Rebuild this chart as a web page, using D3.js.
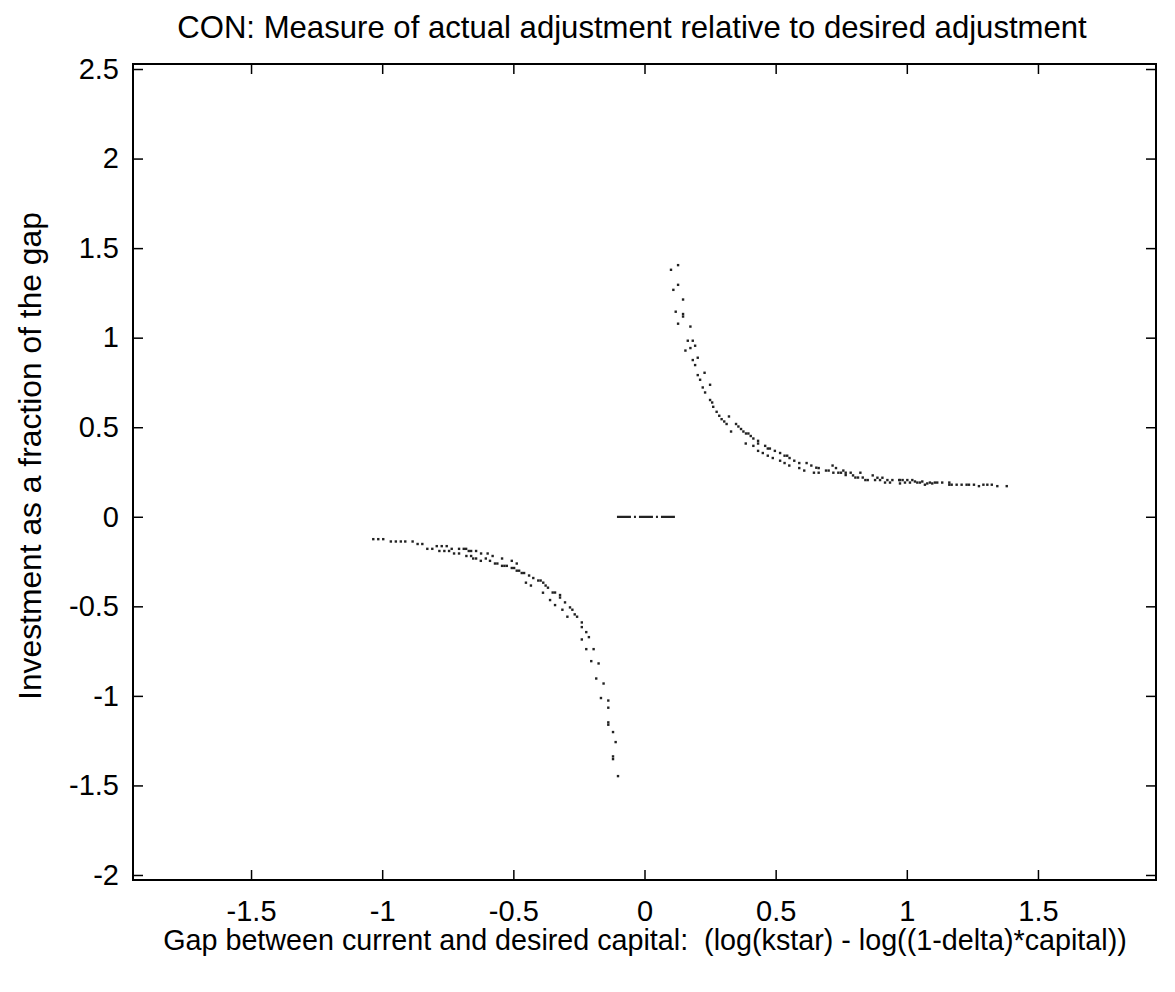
<!DOCTYPE html>
<html>
<head>
<meta charset="utf-8">
<script src="https://cdn.jsdelivr.net/npm/d3@7"></script>
<style>
  html, body { margin: 0; padding: 0; background: #fff; }
  text { font-family: "Liberation Sans", Arial, sans-serif; fill: #000; white-space: pre; }
</style>
</head>
<body>
<div id="chart"></div>
<script>
/* CON: actual vs desired adjustment — scatter of investment / gap */

var titleText = 'CON: Measure of actual adjustment relative to desired adjustment';
var xLabelText = 'Gap between current and desired capital:  (log(kstar) - log((1-delta)*capital))';
var yLabelText = 'Investment as a fraction of the gap';

var xTicks = [-1.5, -1, -0.5, 0, 0.5, 1, 1.5];
var yTicks = [-2, -1.5, -1, -0.5, 0, 0.5, 1, 1.5, 2, 2.5];
var xDomain = [-1.95, 1.95];
var yDomain = [-2.028, 2.528];

/* x extent of the flat run of points at zero */
var zeroRun = [-0.105, 0.116];

/* positive gap: [x, y] */
var upperBranch = [
  [0.101, 1.379], [0.128, 1.405], [0.128, 1.295], [0.110, 1.267], [0.147, 1.213],
  [0.119, 1.145], [0.147, 1.132], [0.147, 1.118], [0.128, 1.078], [0.175, 1.062],
  [0.165, 0.983], [0.184, 0.983], [0.175, 0.942], [0.156, 0.928], [0.193, 0.955],
  [0.184, 0.875], [0.203, 0.888], [0.193, 0.847], [0.203, 0.791], [0.229, 0.804],
  [0.212, 0.765], [0.222, 0.722], [0.250, 0.737], [0.231, 0.694], [0.250, 0.652],
  [0.258, 0.638], [0.262, 0.614], [0.275, 0.586], [0.285, 0.564], [0.294, 0.545],
  [0.304, 0.532], [0.313, 0.518], [0.322, 0.560], [0.330, 0.476], [0.349, 0.518],
  [0.358, 0.504], [0.368, 0.490], [0.377, 0.476], [0.387, 0.465], [0.396, 0.465],
  [0.405, 0.451], [0.415, 0.437], [0.386, 0.409], [0.415, 0.396], [0.433, 0.424],
  [0.433, 0.409], [0.460, 0.396], [0.470, 0.381], [0.478, 0.381], [0.433, 0.368],
  [0.451, 0.356], [0.470, 0.341], [0.489, 0.328], [0.497, 0.368], [0.517, 0.356],
  [0.534, 0.341], [0.544, 0.341], [0.517, 0.313], [0.534, 0.300], [0.552, 0.286],
  [0.553, 0.328], [0.571, 0.313], [0.590, 0.300], [0.590, 0.272], [0.609, 0.258],
  [0.618, 0.300], [0.636, 0.286], [0.646, 0.246], [0.655, 0.274], [0.664, 0.246],
  [0.664, 0.272], [0.692, 0.258], [0.702, 0.258], [0.717, 0.286], [0.720, 0.246],
  [0.730, 0.272], [0.739, 0.246], [0.749, 0.246], [0.758, 0.258], [0.767, 0.246],
  [0.767, 0.233], [0.786, 0.246], [0.795, 0.231], [0.804, 0.219], [0.814, 0.219],
  [0.823, 0.246], [0.832, 0.219], [0.842, 0.205], [0.851, 0.205], [0.870, 0.231],
  [0.879, 0.205], [0.888, 0.218], [0.898, 0.205], [0.907, 0.218], [0.917, 0.191],
  [0.926, 0.205], [0.936, 0.191], [0.945, 0.205], [0.971, 0.205], [0.974, 0.205],
  [0.984, 0.205], [0.974, 0.186], [0.993, 0.191], [1.002, 0.205], [1.012, 0.191],
  [1.021, 0.205], [1.031, 0.197], [1.040, 0.191], [1.050, 0.191], [1.059, 0.197],
  [1.069, 0.179], [1.078, 0.186], [1.088, 0.191], [1.097, 0.186], [1.107, 0.191],
  [1.116, 0.191], [1.135, 0.191], [1.162, 0.191], [1.162, 0.179], [1.171, 0.179],
  [1.190, 0.179], [1.209, 0.179], [1.228, 0.179], [1.237, 0.179], [1.256, 0.179],
  [1.275, 0.171], [1.292, 0.179], [1.307, 0.179], [1.324, 0.179], [1.345, 0.171],
  [1.381, 0.171]
];

/* negative gap: [x, y] */
var lowerBranch = [
  [-1.034, -0.125], [-1.015, -0.125], [-0.996, -0.125], [-0.967, -0.138], [-0.948, -0.138],
  [-0.929, -0.138], [-0.912, -0.138], [-0.884, -0.138], [-0.865, -0.152], [-0.847, -0.152],
  [-0.828, -0.179], [-0.809, -0.179], [-0.792, -0.164], [-0.773, -0.164], [-0.754, -0.164],
  [-0.782, -0.191], [-0.763, -0.191], [-0.745, -0.191], [-0.735, -0.179], [-0.726, -0.205],
  [-0.707, -0.205], [-0.707, -0.179], [-0.689, -0.179], [-0.680, -0.179], [-0.670, -0.191],
  [-0.661, -0.191], [-0.679, -0.219], [-0.661, -0.219], [-0.642, -0.191], [-0.642, -0.233],
  [-0.653, -0.233], [-0.623, -0.205], [-0.624, -0.246], [-0.605, -0.233], [-0.598, -0.205],
  [-0.589, -0.246], [-0.579, -0.219], [-0.570, -0.261], [-0.561, -0.261], [-0.543, -0.233],
  [-0.543, -0.274], [-0.534, -0.274], [-0.525, -0.274], [-0.506, -0.246], [-0.506, -0.286],
  [-0.497, -0.286], [-0.487, -0.261], [-0.487, -0.301], [-0.478, -0.301], [-0.468, -0.314],
  [-0.459, -0.314], [-0.440, -0.328], [-0.452, -0.368], [-0.433, -0.384], [-0.424, -0.342],
  [-0.405, -0.356], [-0.396, -0.356], [-0.386, -0.368], [-0.377, -0.384], [-0.387, -0.424],
  [-0.368, -0.396], [-0.350, -0.423], [-0.341, -0.423], [-0.322, -0.437], [-0.322, -0.451],
  [-0.360, -0.465], [-0.341, -0.493], [-0.303, -0.478], [-0.313, -0.519], [-0.284, -0.506],
  [-0.275, -0.519], [-0.294, -0.558], [-0.266, -0.545], [-0.257, -0.558], [-0.239, -0.590],
  [-0.239, -0.616], [-0.222, -0.644], [-0.212, -0.672], [-0.239, -0.685], [-0.222, -0.739],
  [-0.194, -0.739], [-0.203, -0.806], [-0.175, -0.819], [-0.184, -0.903], [-0.156, -0.931],
  [-0.166, -1.012], [-0.138, -1.026], [-0.138, -1.066], [-0.138, -1.148], [-0.138, -1.161],
  [-0.120, -1.202], [-0.110, -1.258], [-0.120, -1.338], [-0.120, -1.353], [-0.101, -1.448]
];

var W = 1175, H = 992;
var mLeft = 133, mRight = 1156, mTop = 64, mBottom = 880;
var tickLen = 10;

var svg = d3.select('#chart').append('svg')
  .attr('width', W).attr('height', H);

var x = d3.scaleLinear().domain(xDomain).range([mLeft, mRight]);
var y = d3.scaleLinear().domain(yDomain).range([mBottom, mTop]);

var plain = function (d) { return String(d); };

/* ── axes: ticks point inward, mirrored on all four sides ── */
function styleAxis(g) {
  g.select('.domain').remove();
  g.selectAll('line').attr('stroke', '#000').attr('stroke-width', 1.5);
  g.selectAll('text').attr('font-size', 29).attr('fill', '#000')
    .attr('font-family', '"Liberation Sans", Arial, sans-serif');
}

svg.append('g')
  .attr('transform', 'translate(0,' + mBottom + ')')
  .call(d3.axisBottom(x).tickValues(xTicks).tickFormat(plain).tickSizeInner(-tickLen).tickSizeOuter(0).tickPadding(20))
  .call(styleAxis);

svg.append('g')
  .attr('transform', 'translate(0,' + mTop + ')')
  .call(d3.axisTop(x).tickValues(xTicks).tickFormat('').tickSizeInner(-tickLen).tickSizeOuter(0))
  .call(styleAxis);

svg.append('g')
  .attr('transform', 'translate(' + mLeft + ',0)')
  .call(d3.axisLeft(y).tickValues(yTicks).tickFormat(plain).tickSizeInner(-tickLen).tickSizeOuter(0).tickPadding(14))
  .call(styleAxis);

svg.append('g')
  .attr('transform', 'translate(' + mRight + ',0)')
  .call(d3.axisRight(y).tickValues(yTicks).tickFormat('').tickSizeInner(-tickLen).tickSizeOuter(0))
  .call(styleAxis);

/* box */
svg.append('rect')
  .attr('x', mLeft).attr('y', mTop)
  .attr('width', mRight - mLeft).attr('height', mBottom - mTop)
  .attr('fill', 'none').attr('stroke', '#000').attr('stroke-width', 2);

/* ── points ── */
var pts = svg.append('g');
[upperBranch, lowerBranch].forEach(function (set) {
  pts.selectAll(null).data(set).enter().append('rect')
    .attr('x', function (d) { return x(d[0]) - 1.2; })
    .attr('y', function (d) { return y(d[1]) - 1.2; })
    .attr('width', 2.4).attr('height', 2.4)
    .attr('fill', '#222');
});

/* the dense run at zero reads as a dash-dot line */
svg.append('line')
  .attr('x1', x(zeroRun[0])).attr('x2', x(zeroRun[1]))
  .attr('y1', y(0)).attr('y2', y(0))
  .attr('stroke', '#222').attr('stroke-width', 2.2)
  .attr('stroke-dasharray', '14,3,2,3');

/* ── labels, sized to the widths seen in the figure ── */
function fitText(t, width, base) {
  var w = t.node().getComputedTextLength();
  t.attr('font-size', base * width / w);
  return t;
}

fitText(svg.append('text')
  .attr('x', 632).attr('y', 38)
  .attr('text-anchor', 'middle').attr('font-size', 26)
  .text(titleText), 910, 26);

fitText(svg.append('text')
  .attr('x', 645).attr('y', 950)
  .attr('text-anchor', 'middle').attr('font-size', 26)
  .text(xLabelText), 964, 26);

fitText(svg.append('text')
  .attr('transform', 'translate(41,456) rotate(-90)')
  .attr('text-anchor', 'middle').attr('font-size', 26)
  .text(yLabelText), 488, 26);
</script>
</body>
</html>
